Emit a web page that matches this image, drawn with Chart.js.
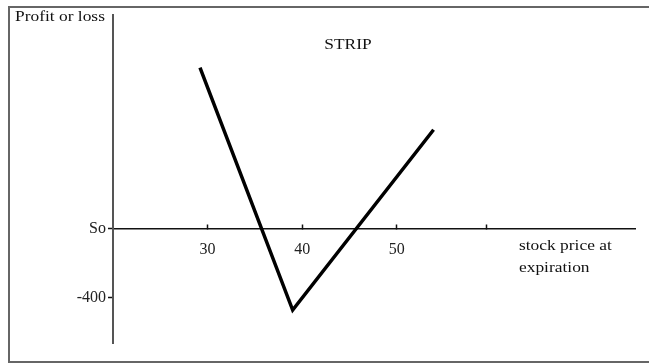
<!DOCTYPE html>
<html>
<head>
<meta charset="UTF-8">
<title>Strip</title>
<script src="https://cdn.jsdelivr.net/npm/chart.js@4.4.0/dist/chart.umd.min.js"></script>
<style>
  body { margin: 0; background: #fff; }
  #frame { position: absolute; left: 8px; top: 6px; width: 700px; height: 357px; box-sizing: border-box; border: 2px solid #666; }
  #wrap { position: absolute; left: 0; top: 0; width: 649px; height: 364px; }
</style>
</head>
<body>
<div id="frame"></div>
<div id="wrap"><canvas id="myChart" width="649" height="364"></canvas></div>
<script>
// stock price at expiration vs profit / loss
var prices = [29.2, 39, 53.9];
var profit = [935, -470, 575];

var xTicks = [30, 40, 50, 59.5];
var xLabels = ['30', '40', '50', ''];
var yTicks = [0, -400];
var yLabels = ['So', '-400'];

var chartTitle = 'STRIP';
var yTitle = 'Profit or loss';
var xTitle = ['stock price at', 'expiration'];

var serif = '"Liberation Serif", "Times New Roman", serif';

// the scanned original has slightly wide lettering
function wideText(ctx, txt, x, y, align) {
  ctx.save();
  ctx.translate(x, y);
  ctx.scale(1.16, 1);
  ctx.textAlign = align;
  ctx.fillText(txt, 0, 0);
  ctx.restore();
}

// titles and axis captions sit outside the chart.js layout
const notes = {
  id: 'notes',
  afterDraw(chart) {
    const ctx = chart.ctx;
    ctx.save();
    ctx.fillStyle = '#111';
    ctx.font = '15px ' + serif;
    ctx.textBaseline = 'middle';
    wideText(ctx, yTitle, 15, 17, 'left');
    wideText(ctx, xTitle[0], 519, 246, 'left');
    wideText(ctx, xTitle[1], 519, 268, 'left');
    wideText(ctx, chartTitle, 348, 45, 'center');
    ctx.restore();
  }
};

let ctx = document.getElementById('myChart').getContext('2d');
const myChart = new Chart(ctx, {
  type: 'line',
  data: {
    datasets: [{
      data: prices.map((p, i) => ({ x: p, y: profit[i] })),
      borderColor: '#000',
      borderWidth: 3.5,
      pointRadius: 0,
      tension: 0,
      fill: false
    }]
  },
  options: {
    responsive: false,
    animation: false,
    layout: { padding: { left: 63, right: 14, top: 15, bottom: 21 } },
    plugins: { legend: { display: false }, tooltip: { enabled: false } },
    scales: {
      x: {
        type: 'linear',
        position: { y: 0 },
        min: 20,
        max: 75.2,
        afterFit: s => { s.height = 0; },
        afterBuildTicks: s => { s.ticks = xTicks.map(v => ({ value: v })); },
        grid: { drawOnChartArea: false, tickLength: -5, tickColor: '#111', tickWidth: 1.5 },
        border: { color: '#111', width: 1.5 },
        ticks: {
          color: '#222',
          padding: 16,
          maxRotation: 0,
          autoSkip: false,
          font: { family: serif, size: 16 },
          callback: (v, i) => xLabels[i]
        }
      },
      y: {
        type: 'linear',
        position: 'left',
        min: -661,
        max: 1240,
        afterFit: s => { s.width = 50; },
        afterBuildTicks: s => { s.ticks = yTicks.map(v => ({ value: v })); },
        grid: { drawOnChartArea: false, tickLength: 5, tickColor: '#111', tickWidth: 1.5 },
        border: { color: '#555', width: 2 },
        ticks: {
          color: '#222',
          padding: 2,
          autoSkip: false,
          font: { family: serif, size: 16 },
          callback: (v, i) => yLabels[i]
        }
      }
    }
  },
  plugins: [notes]
});
</script>
</body>
</html>
